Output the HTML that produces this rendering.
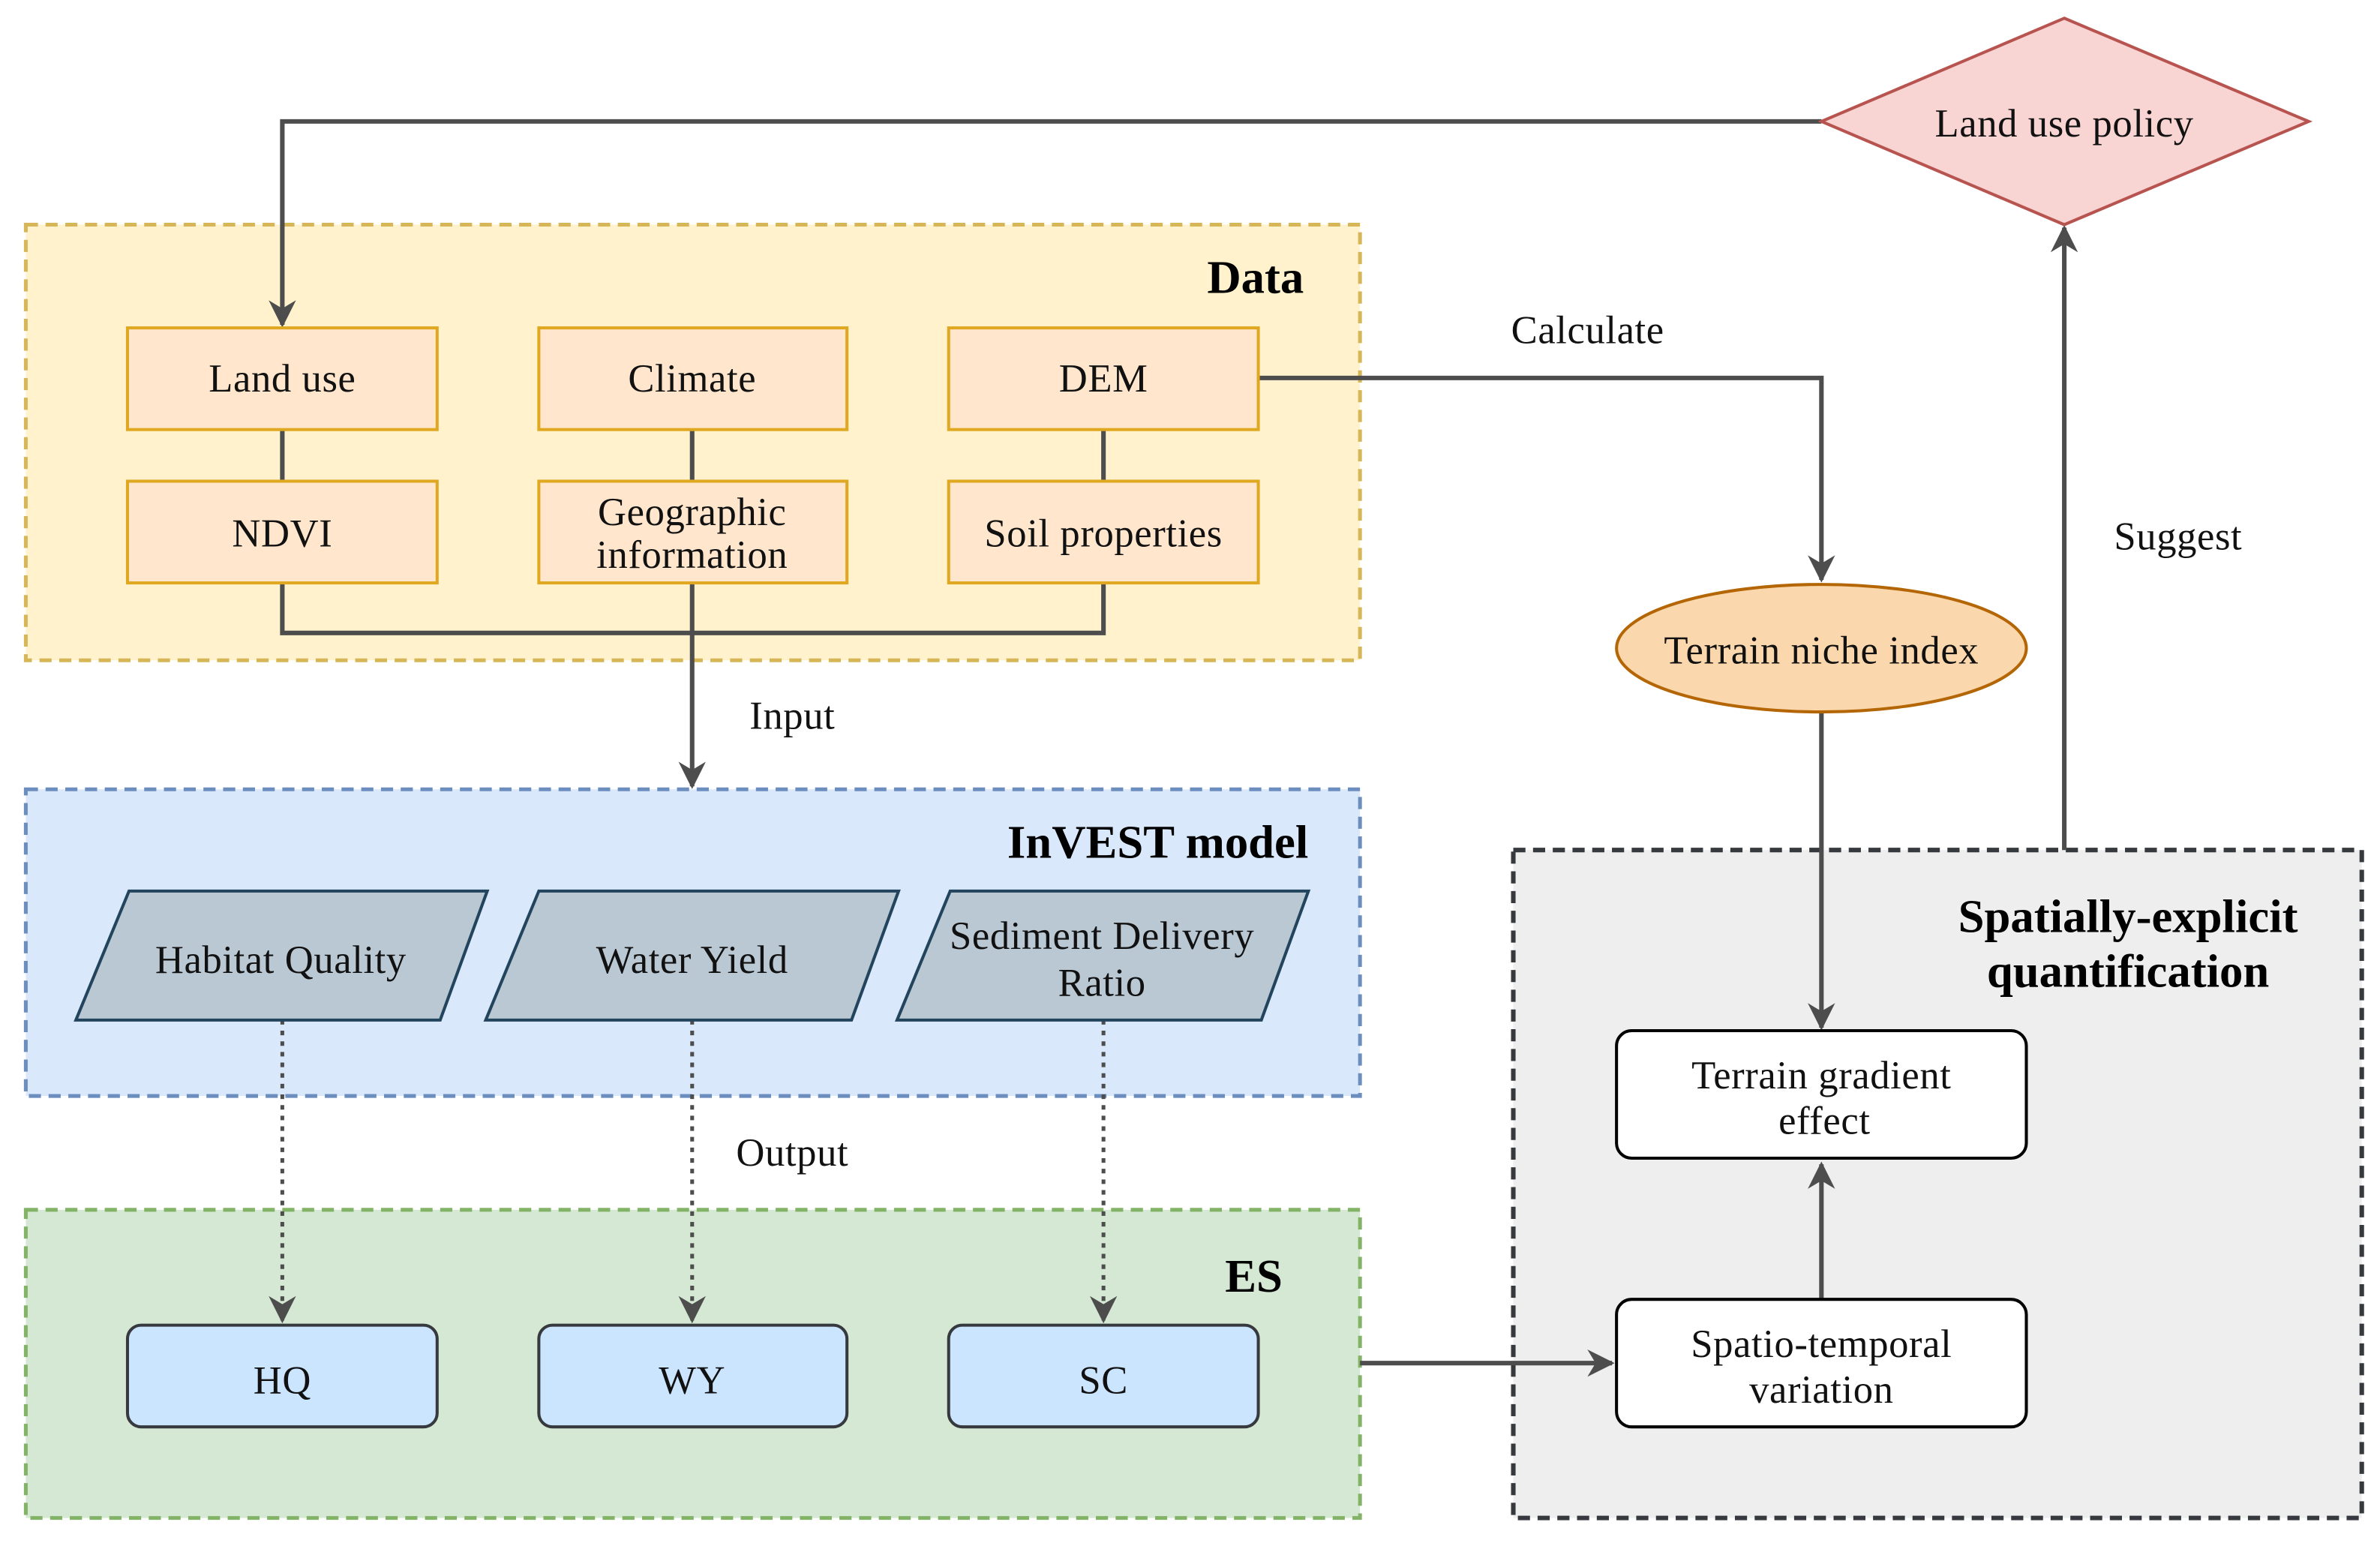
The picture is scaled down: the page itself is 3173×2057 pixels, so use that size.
<!DOCTYPE html>
<html><head><meta charset="utf-8"><style>html,body{margin:0;padding:0;background:#fff}svg{display:block}</style></head>
<body>
<svg width="3173" height="2057" viewBox="0 0 1568 1016.5" preserveAspectRatio="none" xmlns="http://www.w3.org/2000/svg" font-family="'Liberation Serif', serif">
<defs>
<marker id="b" viewBox="0 0 10 10" refX="9" refY="5" markerWidth="18" markerHeight="18" orient="auto" markerUnits="userSpaceOnUse">
<path d="M0,0 L10,5 L0,10 L3,5 z" fill="#4d4d4d"/></marker>
</defs>
<rect width="1568" height="1016.5" fill="#fff"/>
<rect x="17" y="148" width="879" height="287" fill="#fff2cc" stroke="#d6b656" stroke-width="2.5" stroke-dasharray="8,5"/>
<rect x="17" y="520" width="879" height="202" fill="#dae8fc" stroke="#6c8ebf" stroke-width="2.5" stroke-dasharray="8,5"/>
<rect x="17" y="797" width="879" height="203" fill="#d5e8d4" stroke="#82b366" stroke-width="2.5" stroke-dasharray="8,5"/>
<rect x="997" y="560" width="559" height="440" fill="#eeeeee" stroke="#36393d" stroke-width="3" stroke-dasharray="8,5"/>
<g stroke="#4d4d4d" stroke-width="3" fill="none">
<path d="M1200,80 H186 V214" marker-end="url(#b)"/>
<path d="M829,249 H1200 V382" marker-end="url(#b)"/>
<path d="M186,283 V317 M456,283 V317 M727,283 V317"/>
<path d="M186,384 V417 H727 V384"/>
<path d="M456,384 V518" marker-end="url(#b)"/>
<path d="M1200,469 V677" marker-end="url(#b)"/>
<path d="M1360,560 V150" marker-end="url(#b)"/>
<path d="M1200,856 V767" marker-end="url(#b)"/>
<path d="M896,898 H1062" marker-end="url(#b)"/>
</g>
<g stroke="#4d4d4d" stroke-width="2.5" fill="none" stroke-dasharray="3,4">
<path d="M186,672 V870" marker-end="url(#b)"/>
<path d="M456,672 V870" marker-end="url(#b)"/>
<path d="M727,672 V870" marker-end="url(#b)"/>
</g>
<g fill="#ffe6cc" stroke="#e0a820" stroke-width="2">
<rect x="84" y="216" width="204" height="67"/><rect x="355" y="216" width="203" height="67"/><rect x="625" y="216" width="204" height="67"/>
<rect x="84" y="317" width="204" height="67"/><rect x="355" y="317" width="203" height="67"/><rect x="625" y="317" width="204" height="67"/>
</g>
<polygon points="1360,12 1521,80 1360,148 1200,80" fill="#f8d4d2" stroke="#b85450" stroke-width="2"/>
<ellipse cx="1200" cy="427" rx="135" ry="42" fill="#fad7ac" stroke="#b46504" stroke-width="2"/>
<g fill="#bac8d3" stroke="#23445d" stroke-width="2">
<polygon points="85,587 321,587 290,672 50,672"/>
<polygon points="355,587 592,587 561,672 320,672"/>
<polygon points="626,587 862,587 831,672 591,672"/>
</g>
<g fill="#cce5ff" stroke="#36393d" stroke-width="2">
<rect x="84" y="873" width="204" height="67" rx="9"/><rect x="355" y="873" width="203" height="67" rx="9"/><rect x="625" y="873" width="204" height="67" rx="9"/>
</g>
<g fill="#fff" stroke="#000" stroke-width="2">
<rect x="1065" y="679" width="270" height="84" rx="10"/>
<rect x="1065" y="856" width="270" height="84" rx="10"/>
</g>
<g font-size="26" fill="#111" text-anchor="middle" letter-spacing="0.3">
<text x="186" y="258">Land use</text><text x="456" y="258">Climate</text><text x="727" y="258">DEM</text>
<text x="186" y="360">NDVI</text><text x="456" y="346">Geographic</text><text x="456" y="374">information</text><text x="727" y="360">Soil properties</text>
<text x="1360" y="90">Land use policy</text>
<text x="1200" y="437">Terrain niche index</text>
<text x="185" y="641">Habitat Quality</text><text x="456" y="641">Water Yield</text>
<text x="726" y="625">Sediment Delivery</text><text x="726" y="656">Ratio</text>
<text x="186" y="918">HQ</text><text x="456" y="918">WY</text><text x="727" y="918">SC</text>
<text x="1200" y="717">Terrain gradient</text><text x="1202" y="747">effect</text>
<text x="1200" y="894">Spatio-temporal</text><text x="1200" y="924">variation</text>
<text x="1046" y="226">Calculate</text><text x="1435" y="362">Suggest</text>
<text x="522" y="480">Input</text><text x="522" y="768">Output</text>
</g>
<g font-size="31" font-weight="bold" fill="#000">
<text x="859" y="193" text-anchor="end">Data</text>
<text x="862" y="565" text-anchor="end">InVEST model</text>
<text x="845" y="851" text-anchor="end">ES</text>
<text x="1402" y="614" text-anchor="middle">Spatially-explicit</text>
<text x="1402" y="650" text-anchor="middle">quantification</text>
</g>
</svg>
</body></html>
